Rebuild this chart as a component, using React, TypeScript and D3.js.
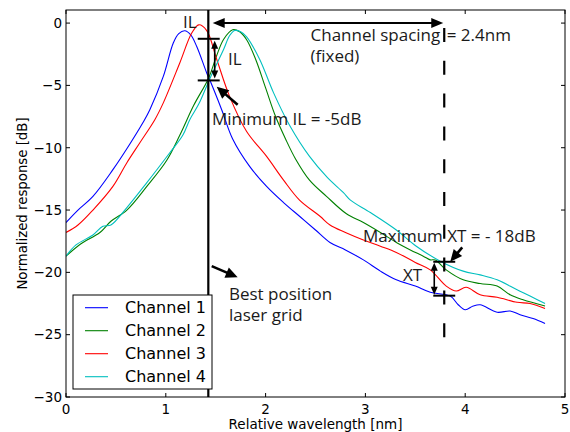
import React from 'react';
import * as d3 from 'd3';

// ---------- data ----------
const xTicks = [0, 1, 2, 3, 4, 5];
const yTicks = [-30, -25, -20, -15, -10, -5, 0];
const seriesNames = ['Channel 1', 'Channel 2', 'Channel 3', 'Channel 4'];
const seriesColors = ['#0000ff', '#008000', '#ff0000', '#00bfbf'];

const ch1X = [0, 0.12, 0.27, 0.47, 0.64, 0.77, 0.84, 0.975, 1.075, 1.13, 1.19, 1.25, 1.31, 1.41, 1.44, 1.56, 1.67, 1.84, 2.01, 2.18, 2.34, 2.5, 2.645, 2.8, 2.98, 3.15, 3.31, 3.5, 3.65, 3.85, 3.93, 4.0, 4.08, 4.15, 4.32, 4.45, 4.55, 4.68, 4.8];
const ch1Y = [-16, -15.0, -13.9, -11.76, -9.7, -8.0, -6.95, -4.28, -1.6, -0.85, -0.62, -0.95, -1.88, -4.0, -4.55, -6.95, -9.3, -11.5, -13.1, -14.4, -15.5, -16.6, -17.6, -18.2, -19.0, -19.9, -20.6, -21.1, -21.6, -21.9, -22.6, -23.0, -22.7, -22.6, -23.2, -23.1, -23.4, -23.7, -24.1];

const ch2X = [0, 0.15, 0.34, 0.45, 0.61, 0.81, 1.01, 1.14, 1.28, 1.43, 1.51, 1.58, 1.67, 1.74, 1.81, 1.9, 2.0, 2.1, 2.2, 2.3, 2.44, 2.61, 2.81, 2.98, 3.15, 3.31, 3.45, 3.58, 3.65, 3.7, 3.81, 3.98, 4.15, 4.32, 4.45, 4.58, 4.8];
const ch2Y = [-18.7, -17.7, -16.8, -15.9, -15, -13.1, -11, -9.0, -6.6, -4.4, -2.6, -1.3, -0.54, -0.7, -1.34, -2.9, -5.2, -7.5, -9.3, -10.9, -12.6, -13.9, -15.3, -16, -16.8, -17.6, -18.2, -18.7, -19.0, -19.0, -19.8, -20.6, -20.9, -21.1, -21.8, -22.2, -22.7];

const ch3X = [0, 0.12, 0.27, 0.47, 0.61, 0.74, 0.89, 0.975, 1.14, 1.26, 1.33, 1.41, 1.51, 1.64, 1.81, 2.01, 2.18, 2.34, 2.545, 2.645, 2.8, 2.98, 3.15, 3.31, 3.5, 3.65, 3.81, 3.91, 4.01, 4.15, 4.32, 4.52, 4.65, 4.8];
const ch3Y = [-16.8, -16.2, -15, -13.1, -11.2, -9.6, -7.75, -6.4, -3.2, -0.8, -0.14, -0.6, -2.9, -5.9, -8.7, -10.7, -12.6, -14.2, -15.5, -16.2, -16.8, -17.4, -17.9, -18.4, -19.2, -19.8, -21.1, -21.5, -21.2, -21.8, -22.0, -22.4, -22.5, -22.9];

const ch4X = [0, 0.1, 0.27, 0.37, 0.45, 0.61, 0.81, 1.04, 1.17, 1.24, 1.33, 1.45, 1.58, 1.64, 1.69, 1.75, 1.81, 1.94, 2.08, 2.24, 2.44, 2.62, 2.78, 2.85, 3.05, 3.31, 3.51, 3.75, 3.98, 4.15, 4.32, 4.52, 4.65, 4.8];
const ch4Y = [-18.7, -17.8, -17, -16.3, -16.2, -14.8, -12.8, -10.4, -9.0, -7.75, -6.5, -4.3, -2.1, -1.0, -0.6, -0.7, -1.1, -2.9, -5.6, -8.2, -10.7, -12.4, -13.6, -14.2, -15.2, -16.6, -17.9, -19.1, -19.9, -20.2, -20.6, -21.4, -21.9, -22.5];

const seriesX = [ch1X, ch2X, ch3X, ch4X];
const seriesY = [ch1Y, ch2Y, ch3Y, ch4Y];

// annotations (data units)
const gridLineX = 1.426;
const spacingLineX = 3.79;
const spacingLineYRange = [1.05, -25.2];
const spacingArrowY = 0;
const spacingArrowXRange = [1.47, 3.78];
const ilBarYs = [-1.26, -4.6];
const ilBarXRange = [1.32, 1.54];
const ilArrowX = 1.49;
const xtBarYs = [-19.15, -21.87];
const xtBarXRange = [3.68, 3.9];
const xtArrowX = 3.69;
const pointerFrom = [[1.72, -6.55], [1.46, -19.5], [3.97, -18.0]];
const pointerTo = [[1.51, -5.1], [1.72, -20.4], [3.85, -19.15]];
const labelTexts = ['IL', 'Channel spacing', '= 2.4nm', '(fixed)', 'IL', 'Minimum IL = -5dB', 'Best position', 'laser grid', 'Maximum XT = - 18dB', 'XT'];
const labelX = [1.172, 2.45, 3.815, 2.45, 1.623, 1.463, 1.633, 1.633, 2.976, 3.377];
const labelY = [-0.38, -1.4, -1.4, -3.1, -3.34, -8.15, -22.19, -23.87, -17.54, -20.72];

// ---------- layout ----------
const W = 570, H = 432;
const L = 66, R = 565, T = 10, B = 397;

function head(tip: [number, number], tail: [number, number], len: number, wid: number) {
  const dx = tip[0] - tail[0], dy = tip[1] - tail[1];
  const d = Math.hypot(dx, dy) || 1;
  const ux = dx / d, uy = dy / d;
  const nx = -uy, ny = ux;
  const bx = tip[0] - ux * len, by = tip[1] - uy * len;
  return `${tip[0]},${tip[1]} ${bx + nx * wid / 2},${by + ny * wid / 2} ${bx - nx * wid / 2},${by - ny * wid / 2}`;
}

export default function App() {
  const x = d3.scaleLinear().domain([0, 5]).range([L, R]);
  const y = d3.scaleLinear().domain([-30, 1.05]).range([B, T]);
  const line = d3.line<[number, number]>()
    .x(d => x(d[0]))
    .y(d => y(d[1]))
    .curve(d3.curveCatmullRom.alpha(0.5));

  const tickFont = 'DejaVu Sans, sans-serif';
  const annFont = '"Open Sans", "Noto Sans", sans-serif';
  const ink = '#000';

  const arrowDouble = (a: [number, number], b: [number, number], len: number, wid: number, sw: number) => {
    const dx = b[0] - a[0], dy = b[1] - a[1];
    const d = Math.hypot(dx, dy);
    const ux = dx / d, uy = dy / d;
    return (
      <g>
        <line x1={a[0] + ux * len * 0.6} y1={a[1] + uy * len * 0.6} x2={b[0] - ux * len * 0.6} y2={b[1] - uy * len * 0.6} stroke={ink} strokeWidth={sw} />
        <polygon points={head(a, b, len, wid)} fill={ink} />
        <polygon points={head(b, a, len, wid)} fill={ink} />
      </g>
    );
  };

  return (
    <svg width={W} height={H} style={{ position: 'absolute', left: 0, top: 0, background: '#fff' }}>
      <rect x={0} y={0} width={W} height={H} fill="#fff" />
      <defs>
        <clipPath id="plotclip">
          <rect x={L} y={T} width={R - L} height={B - T} />
        </clipPath>
      </defs>

      {/* series */}
      <g clipPath="url(#plotclip)">
        {seriesX.map((xs, i) => (
          <path key={i} d={line(xs.map((v, j) => [v, seriesY[i][j]] as [number, number])) || ''}
            fill="none" stroke={seriesColors[i]} strokeWidth={1.1} />
        ))}
      </g>

      {/* annotations */}
      <line x1={x(gridLineX)} x2={x(gridLineX)} y1={T} y2={B} stroke={ink} strokeWidth={2.2} />
      <line x1={x(spacingLineX)} x2={x(spacingLineX)} y1={y(spacingLineYRange[0])} y2={y(spacingLineYRange[1])}
        stroke={ink} strokeWidth={2.2} strokeDasharray="14,18.8" strokeDashoffset={14.8} />
      {arrowDouble([x(spacingArrowXRange[0]), y(spacingArrowY)], [x(spacingArrowXRange[1]), y(spacingArrowY)], 12, 10, 2)}

      {ilBarYs.map((v, i) => (
        <line key={'il' + i} x1={x(ilBarXRange[0])} x2={x(ilBarXRange[1])} y1={y(v)} y2={y(v)} stroke={ink} strokeWidth={2} />
      ))}
      {arrowDouble([x(ilArrowX), y(ilBarYs[0]) + 2], [x(ilArrowX), y(ilBarYs[1]) - 2], 8, 7, 1.6)}

      {xtBarYs.map((v, i) => (
        <line key={'xt' + i} x1={x(xtBarXRange[0])} x2={x(xtBarXRange[1])} y1={y(v)} y2={y(v)} stroke={ink} strokeWidth={2} />
      ))}
      {arrowDouble([x(xtArrowX), y(xtBarYs[0]) + 1], [x(xtArrowX), y(xtBarYs[1]) - 1], 8, 7, 1.6)}

      {pointerFrom.map((f, i) => {
        const tail: [number, number] = [x(f[0]), y(f[1])];
        const tip: [number, number] = [x(pointerTo[i][0]), y(pointerTo[i][1])];
        const dx = tip[0] - tail[0], dy = tip[1] - tail[1];
        const d = Math.hypot(dx, dy);
        return (
          <g key={'p' + i}>
            <line x1={tail[0]} y1={tail[1]} x2={tip[0] - dx / d * 8} y2={tip[1] - dy / d * 8} stroke={ink} strokeWidth={2.6} />
            <polygon points={head(tip, tail, 12, 11)} fill={ink} />
          </g>
        );
      })}

      {labelTexts.map((t, i) => (
        <text key={'t' + i} x={x(labelX[i])} y={y(labelY[i])} fontFamily={annFont} fontSize={17} fill="#1a1a1a">{t}</text>
      ))}

      {/* frame */}
      <rect x={L} y={T} width={R - L} height={B - T} fill="none" stroke={ink} strokeWidth={1} />

      {/* ticks */}
      {xTicks.map(v => (
        <g key={'xt' + v}>
          <line x1={x(v)} x2={x(v)} y1={B} y2={B - 4} stroke={ink} />
          <line x1={x(v)} x2={x(v)} y1={T} y2={T + 4} stroke={ink} />
          <text x={x(v)} y={414} textAnchor="middle" fontFamily={tickFont} fontSize={13.5} fill={ink}>{String(v)}</text>
        </g>
      ))}
      {yTicks.map(v => (
        <g key={'yt' + v}>
          <line x1={L} x2={L + 4} y1={y(v)} y2={y(v)} stroke={ink} />
          <line x1={R} x2={R - 4} y1={y(v)} y2={y(v)} stroke={ink} />
          <text x={62} y={y(v) + 4.8} textAnchor="end" fontFamily={tickFont} fontSize={13.5} fill={ink}>{v < 0 ? '\u2212' + Math.abs(v) : String(v)}</text>
        </g>
      ))}

      {/* axis labels */}
      <text x={(L + R) / 2} y={429} textAnchor="middle" fontFamily={tickFont} fontSize={13.5} fill={ink}>Relative wavelength [nm]</text>
      <text transform={`translate(27,${(T + B) / 2}) rotate(-90)`} textAnchor="middle" fontFamily={tickFont} fontSize={13.3} fill={ink}>Normalized response [dB]</text>

      {/* legend */}
      <g>
        <rect x={73} y={295} width={139} height={94} fill="#fff" stroke={ink} strokeWidth={1} />
        {seriesNames.map((n, i) => {
          const cy = 307.7 + i * 23;
          return (
            <g key={'lg' + i}>
              <line x1={85} x2={108} y1={cy} y2={cy} stroke={seriesColors[i]} strokeWidth={1.1} />
              <text x={125} y={cy + 5.5} fontFamily={tickFont} fontSize={16} fill={ink}>{n}</text>
            </g>
          );
        })}
      </g>
    </svg>
  );
}
